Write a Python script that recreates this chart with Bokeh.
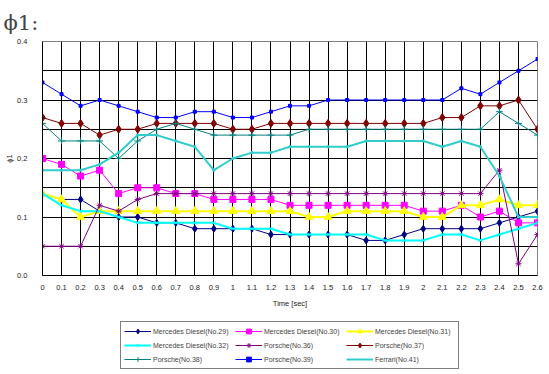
from bokeh.plotting import figure
from bokeh.layouts import column
from bokeh.models import FixedTicker, Legend, LegendItem, Range1d
from bokeh.embed import file_html
from bokeh.resources import INLINE

# ---- data ----
time = [0, 0.1, 0.2, 0.3, 0.4, 0.5, 0.6, 0.7, 0.8, 0.9, 1, 1.1, 1.2, 1.3,
        1.4, 1.5, 1.6, 1.7, 1.8, 1.9, 2, 2.1, 2.2, 2.3, 2.4, 2.5, 2.6]
time_labels = ["0", "0.1", "0.2", "0.3", "0.4", "0.5", "0.6", "0.7", "0.8", "0.9",
               "1", "1.1", "1.2", "1.3", "1.4", "1.5", "1.6", "1.7", "1.8", "1.9",
               "2", "2.1", "2.2", "2.3", "2.4", "2.5", "2.6"]
y_ticks = [0.0, 0.1, 0.2, 0.3, 0.4]
y_tick_labels = ["0.0", "0.1", "0.2", "0.3", "0.4"]
y_minor = [0.05, 0.15, 0.25, 0.35]

merc29 = [0.14, 0.13, 0.13, 0.11, 0.10, 0.10, 0.09, 0.09, 0.08, 0.08, 0.08, 0.08, 0.07, 0.07,
          0.07, 0.07, 0.07, 0.06, 0.06, 0.07, 0.08, 0.08, 0.08, 0.08, 0.09, 0.10, 0.11]
merc30 = [0.20, 0.19, 0.17, 0.18, 0.14, 0.15, 0.15, 0.14, 0.14, 0.13, 0.13, 0.13, 0.13, 0.12,
          0.12, 0.12, 0.12, 0.12, 0.12, 0.12, 0.11, 0.11, 0.12, 0.10, 0.11, 0.09, 0.09]
merc31 = [0.14, 0.13, 0.10, 0.11, 0.11, 0.11, 0.11, 0.11, 0.11, 0.11, 0.11, 0.11, 0.11, 0.11,
          0.10, 0.10, 0.11, 0.11, 0.11, 0.11, 0.10, 0.10, 0.12, 0.12, 0.13, 0.12, 0.12]
merc32 = [0.14, 0.12, 0.11, 0.11, 0.10, 0.09, 0.09, 0.09, 0.09, 0.09, 0.08, 0.08, 0.08, 0.07,
          0.07, 0.07, 0.07, 0.07, 0.06, 0.06, 0.06, 0.07, 0.07, 0.06, 0.07, 0.08, 0.09]
pors36 = [0.05, 0.05, 0.05, 0.12, 0.11, 0.13, 0.14, 0.14, 0.14, 0.14, 0.14, 0.14, 0.14, 0.14,
          0.14, 0.14, 0.14, 0.14, 0.14, 0.14, 0.14, 0.14, 0.14, 0.14, 0.18, 0.02, 0.07]
pors37 = [0.27, 0.26, 0.26, 0.24, 0.25, 0.25, 0.26, 0.26, 0.26, 0.26, 0.25, 0.25, 0.26, 0.26,
          0.26, 0.26, 0.26, 0.26, 0.26, 0.26, 0.26, 0.27, 0.27, 0.29, 0.29, 0.30, 0.25]
pors38 = [0.26, 0.23, 0.23, 0.23, 0.20, 0.23, 0.25, 0.26, 0.25, 0.24, 0.24, 0.24, 0.24, 0.24,
          0.25, 0.25, 0.25, 0.25, 0.25, 0.25, 0.25, 0.25, 0.25, 0.25, 0.28, 0.26, 0.24]
pors39 = [0.33, 0.31, 0.29, 0.30, 0.29, 0.28, 0.27, 0.27, 0.28, 0.28, 0.27, 0.27, 0.28, 0.29,
          0.29, 0.30, 0.30, 0.30, 0.30, 0.30, 0.30, 0.30, 0.32, 0.31, 0.33, 0.35, 0.37]
ferr41 = [0.18, 0.18, 0.18, 0.19, 0.21, 0.24, 0.24, 0.23, 0.22, 0.18, 0.20, 0.21, 0.21, 0.22,
          0.22, 0.22, 0.22, 0.23, 0.23, 0.23, 0.23, 0.22, 0.23, 0.22, 0.17, 0.10, 0.10]

names = ["Mercedes Diesel(No.29)", "Mercedes Diesel(No.30)", "Mercedes Diesel(No.31)",
         "Mercedes Diesel(No.32)", "Porsche(No.36)", "Porsche(No.37)",
         "Porsche(No.38)", "Porsche(No.39)", "Ferrari(No.41)"]
values = [merc29, merc30, merc31, merc32, pors36, pors37, pors38, pors39, ferr41]

# ---- styles ----
colors = ["#000080", "#FF00FF", "#FFFF00", "#00FFFF", "#800080", "#800000",
          "#008080", "#0000FF", "#33CCCC"]
markers = ["diamond", "square", "triangle", "x", "asterisk", "diamond",
           "cross", "square", "square"]
msizes = [7, 6, 8, 5, 6, 8, 7, 3, 2]
lwidths = [1, 1, 2, 2, 1, 1, 1, 1, 2]

FONT = "Liberation Sans"

p = figure(width=549, height=313, output_backend="svg", toolbar_location=None,
           x_range=Range1d(0, 2.6), y_range=Range1d(0, 0.4),
           min_border_left=42, min_border_right=12, min_border_top=41,
           min_border_bottom=38)
p.background_fill_color = "white"
p.border_fill_color = "white"
p.outline_line_color = "#808080"

p.title.text = "\u03d51:"
p.title.text_font = "DejaVu Serif"
p.title.text_font_size = "21px"
p.title.text_font_style = "normal"
p.title.align = "left"
p.title.offset = -39
p.title.standoff = 14

p.xaxis.ticker = FixedTicker(ticks=time)
p.xaxis.major_label_overrides = dict(zip(time, time_labels))
p.yaxis.ticker = FixedTicker(ticks=y_ticks, minor_ticks=y_minor)
p.yaxis.major_label_overrides = dict(zip(y_ticks, y_tick_labels))
p.xaxis.axis_label = "Time [sec]"
p.yaxis.axis_label = "\u03d51"
for ax in (p.xaxis, p.yaxis):
    ax.axis_line_color = "black"
    ax.major_tick_line_color = None
    ax.minor_tick_line_color = None
    ax.major_label_text_font = FONT
    ax.major_label_text_font_size = "7.5px"
    ax.major_label_text_color = "#222222"
    ax.axis_label_text_font = FONT
    ax.axis_label_text_font_size = "7.5px"
    ax.axis_label_text_font_style = "normal"
    ax.axis_label_text_color = "#222222"
p.xaxis.major_label_standoff = 3
p.yaxis.major_label_standoff = 9
p.xaxis.axis_label_standoff = 6
p.yaxis.axis_label_standoff = 0

p.xgrid.grid_line_color = "black"
p.ygrid.grid_line_color = "black"
p.ygrid.minor_grid_line_color = "black"

for vals, c, m, s, lw in zip(values, colors, markers, msizes, lwidths):
    p.line(time, vals, line_color=c, line_width=lw)
    p.scatter(time, vals, marker=m, size=s, line_color=c, fill_color=c, line_width=1)

# ---- legend panel (separate figure beneath) ----
lg = figure(width=549, height=61, output_backend="svg", toolbar_location=None,
            min_border=0, min_border_left=0, min_border_right=0,
            min_border_top=0, min_border_bottom=0,
            x_axis_type=None, y_axis_type=None)
lg.outline_line_color = None
lg.border_fill_color = "white"
lg.background_fill_color = "white"
lg.xgrid.visible = False
lg.ygrid.visible = False
items = []
for k, (name, vals, c, m, s, lw) in enumerate(zip(names, values, colors, markers, msizes, lwidths)):
    lr = lg.line(time, vals, line_color=c, line_width=lw, visible=False)
    rends = [lr]
    if k != 8:
        sr = lg.scatter(time, vals, marker=m, size=s, line_color=c, fill_color=c,
                        line_width=1, visible=False)
        rends.append(sr)
    items.append(LegendItem(label=name, renderers=rends))

# legend fills column by column; reorder so that it reads row by row
order = [0, 3, 6, 1, 4, 7, 2, 5, 8]
legend = Legend(items=[items[i] for i in order], location=(78, 5), ncols=3,
                label_text_font=FONT, label_text_font_size="7px",
                label_height=12, glyph_height=12, glyph_width=27, label_width=80,
                label_standoff=2, spacing=2, padding=3, margin=0,
                border_line_color="black", border_line_width=1,
                background_fill_color="white", background_fill_alpha=1,
                inactive_fill_alpha=0)
lg.add_layout(legend, "center")

layout = column(p, lg, spacing=0)
open("out.html", "w").write(file_html(layout, INLINE))
